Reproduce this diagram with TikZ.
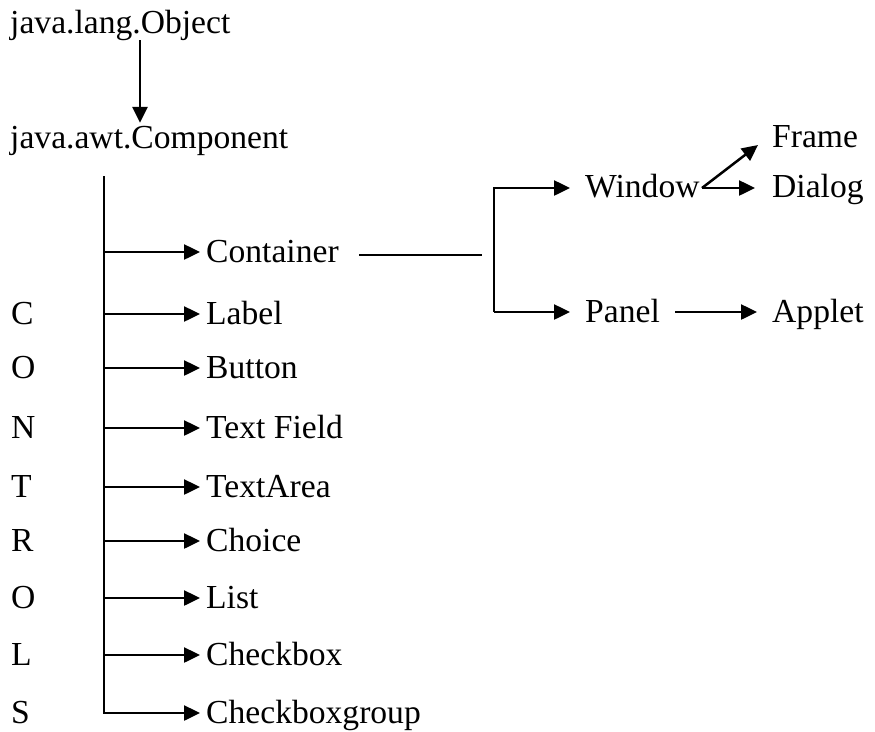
\documentclass[tikz,border=0pt]{standalone}
\usepackage{fontspec}
\setmainfont{Liberation Serif}
\usetikzlibrary{arrows.meta}
\begin{document}
\begin{tikzpicture}[x=1pt,y=-1pt,
  lbl/.style={anchor=west,inner sep=0pt,text height=24pt,text depth=4pt,font=\fontsize{33.6}{40}\selectfont},
  ln/.style={line width=2.5pt},
  arr/.style={ln,-{Triangle[length=16pt,width=15pt]}}]
\useasboundingbox (0,0) rectangle (875,731);
% top
\node[lbl] (obj) at (10,23) {java.lang.Object};
\node[lbl] (comp) at (10,138) {java.awt.Component};
\coordinate (ax) at (140,0);
\draw[arr] ([yshift=-3pt]obj.south -| ax) -- ([yshift=1pt]comp.north -| ax);
% spine
\coordinate (stop) at (104,176);
\node[lbl] (cont) at (206,252) {Container};
\node[lbl] (labl) at (206,314) {Label};
\node[lbl] (butn) at (206,368) {Button};
\node[lbl] (tfld) at (206,428) {Text Field};
\node[lbl] (tara) at (206,487) {TextArea};
\node[lbl] (chce) at (206,541) {Choice};
\node[lbl] (lst) at (206,598) {List};
\node[lbl] (cbx) at (206,655) {Checkbox};
\node[lbl] (cbg) at (206,713) {Checkboxgroup};
\draw[arr] (stop) |- ([xshift=-6pt]cbg.west);
\foreach \n in {cont,labl,butn,tfld,tara,chce,lst,cbx}
  \draw[arr] (stop |- \n.west) -- ([xshift=-6pt]\n.west);
% letters
\foreach \t/\y [count=\i] in {C/314,O/368,N/428,T/487,R/541,O/598,L/655,S/713}
  \node[lbl] (let\i) at (11,\y) {\t};
% right part
\coordinate (cl1) at (359,255);
\coordinate (cl2) at (482,255);
\draw[ln] (cl1) -- (cl2);
\node[lbl] (win) at (585,187) {Window};
\node[lbl] (pan) at (585,312) {Panel};
\node[lbl] (app) at (772,312) {Applet};
\node[lbl] (dlg) at (772,187) {Dialog};
\node[lbl] (frm) at (772,137) {Frame};
\coordinate (vt) at (494,188);
\coordinate (vb) at (494,312);
\draw[arr,line join=miter] (vb) -- (vt) -- ([xshift=-15pt]win.west |- vt);
\draw[arr] (vb) -- ([xshift=-15pt]pan.west);
\draw[arr] ([xshift=15pt]pan.east) -- ([xshift=-15pt]app.west);
\coordinate (ws) at (702,188);
\draw[arr] (ws) -- ([xshift=-17pt]dlg.west |- ws);
\draw[arr] (ws) -- ([xshift=-14pt,yshift=-8pt]frm.west);
\end{tikzpicture}
\end{document}
